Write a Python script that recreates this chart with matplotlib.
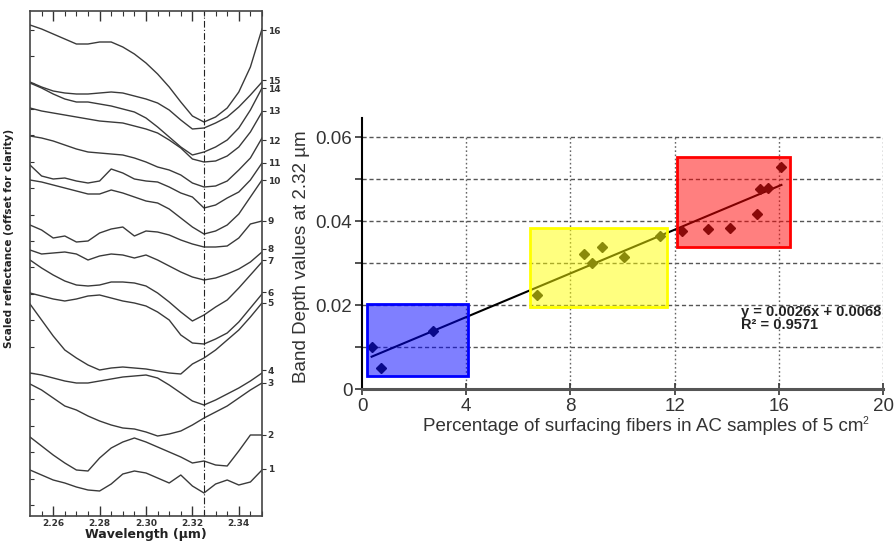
import numpy as np
import matplotlib
matplotlib.use("Agg")
import matplotlib.pyplot as plt
from matplotlib.patches import Rectangle

# ---------------- Left panel data (scaled reflectance, offset, arbitrary units) ----------------
wavelength = [2.250, 2.255, 2.260, 2.265, 2.270, 2.275, 2.280, 2.285, 2.290, 2.295, 2.300,
              2.305, 2.310, 2.315, 2.320, 2.325, 2.330, 2.335, 2.340, 2.345, 2.350]

spec16 = [491, 487, 482, 477, 472, 472, 474, 474, 469, 462, 453, 442, 429, 414, 400, 394, 399, 408, 424, 449, 487]
spec15 = [434, 429, 425, 423, 422, 422, 423, 424, 423, 420, 417, 413, 406, 396, 387, 388, 393, 399, 409, 421, 434]
spec14 = [433, 428, 422, 417, 414, 414, 412, 410, 407, 404, 398, 389, 379, 369, 361, 364, 369, 376, 388, 406, 428]
spec13 = [408, 405, 403, 401, 399, 397, 395, 394, 393, 390, 387, 383, 376, 368, 357, 354, 355, 360, 369, 384, 404]
spec12 = [380, 378, 375, 371, 367, 364, 363, 362, 361, 358, 354, 349, 346, 341, 333, 329, 330, 335, 346, 358, 378]
spec11 = [351, 340, 337, 338, 335, 333, 335, 347, 343, 337, 335, 334, 329, 323, 319, 308, 311, 318, 324, 336, 353]
spec10 = [336, 334, 331, 328, 325, 322, 322, 326, 323, 319, 315, 313, 307, 298, 289, 282, 285, 291, 302, 319, 336]
spec9 = [291, 286, 278, 280, 274, 275, 283, 287, 289, 280, 285, 284, 281, 276, 272, 269, 269, 270, 278, 292, 295]
spec8 = [266, 262, 263, 264, 262, 256, 260, 262, 261, 258, 261, 256, 250, 244, 239, 236, 238, 242, 247, 254, 264]
spec7 = [256, 248, 241, 235, 231, 230, 231, 234, 234, 233, 230, 223, 214, 204, 195, 201, 209, 216, 228, 241, 254]
spec6 = [223, 220, 217, 215, 217, 220, 221, 218, 215, 213, 210, 204, 196, 181, 173, 172, 177, 183, 194, 208, 222]
spec5 = [212, 196, 180, 166, 158, 151, 146, 148, 149, 148, 147, 145, 143, 142, 152, 158, 166, 176, 186, 199, 213]
spec4 = [143, 141, 138, 135, 133, 133, 135, 137, 139, 140, 141, 138, 131, 123, 115, 111, 116, 122, 128, 135, 143]
spec3 = [132, 126, 118, 110, 106, 100, 95, 91, 88, 87, 84, 80, 82, 85, 91, 98, 104, 110, 118, 126, 133]
spec2 = [79, 70, 61, 53, 46, 45, 58, 68, 74, 78, 74, 69, 64, 59, 53, 55, 51, 50, 65, 81, 81]
spec1 = [46, 41, 36, 33, 29, 26, 25, 32, 42, 45, 43, 38, 33, 41, 30, 23, 32, 36, 31, 34, 46]

spectrum_labels = ["1", "2", "3", "4", "5", "6", "7", "8", "9", "10", "11", "12", "13", "14", "15", "16"]
label_levels = [47, 81, 133, 146, 213, 224, 256, 267, 295, 336, 353, 376, 405, 428, 436, 486]
band_center = 2.325
left_xticks = [2.26, 2.28, 2.30, 2.32, 2.34]
left_xticklabels = ["2.26", "2.28", "2.30", "2.32", "2.34"]

# ---------------- Right panel data ----------------
blue_pct = [0.37, 0.72, 2.72]
blue_depth = [0.0101, 0.0051, 0.0139]
yellow_pct = [6.72, 8.52, 8.84, 9.22, 10.05, 11.44]
yellow_depth = [0.0225, 0.0322, 0.0300, 0.0340, 0.0316, 0.0366]
red_pct = [12.30, 13.30, 14.14, 15.18, 15.29, 15.57, 16.10]
red_depth = [0.0377, 0.0381, 0.0385, 0.0417, 0.0476, 0.0479, 0.0530]

fit_slope = 0.0026
fit_intercept = 0.0068
fit_range = [0.37, 16.1]

# boxes: (x0, x1, y0, y1)
blue_box = [0.18, 4.05, 0.0032, 0.0202]
yellow_box = [6.46, 11.71, 0.0197, 0.0385]
red_box = [12.10, 16.44, 0.0338, 0.0554]

right_xticks = [0, 4, 8, 12, 16, 20]
right_yticks = [0, 0.02, 0.04, 0.06]
right_yticklabels = ["0", "0.02", "0.04", "0.06"]
grid_y = [0.01, 0.02, 0.03, 0.04, 0.05, 0.06]
grid_x = [4, 8, 12, 16, 20]

# ---------------- Figure ----------------
W, H = 894, 541
fig = plt.figure(figsize=(W / 100, H / 100), dpi=100)
fig.patch.set_facecolor("white")

def fx(px):
    return px / W

def fy(py):
    return 1 - py / H

# ===== Left panel =====
axL = fig.add_axes([fx(30), fy(516), fx(262) - fx(30), fy(11) - fy(516)])
spectra = [spec1, spec2, spec3, spec4, spec5, spec6, spec7, spec8,
           spec9, spec10, spec11, spec12, spec13, spec14, spec15, spec16]
for s in spectra:
    axL.plot(wavelength, s, color="#3a3a3a", lw=1.0)
axL.axvline(band_center, color="#222222", lw=0.8, ls=(0, (6, 2, 1, 2)))
axL.set_xlim(2.25, 2.35)
axL.set_ylim(0, 505)
axL.set_xticks(left_xticks)
axL.set_xticklabels(left_xticklabels)
axL.set_xticks(np.arange(2.255, 2.35, 0.005), minor=True)
axL.set_yticks(np.arange(11, 505, 26.4))
axL.set_yticklabels([])
axL.tick_params(axis="x", which="major", direction="in", length=7, width=1, top=True,
                labelsize=6.5, pad=2, colors="#333333")
axL.tick_params(axis="x", which="minor", direction="in", length=3.5, width=0.8, top=True, colors="#333333")
axL.tick_params(axis="y", which="major", direction="in", length=3, width=0.8, left=True, right=False,
                colors="#333333")
for lab in axL.get_xticklabels():
    lab.set_fontweight("bold")
for sp in axL.spines.values():
    sp.set_color("#444444")
    sp.set_linewidth(1.2)
axL.set_xlabel("Wavelength (µm)", fontsize=9, fontweight="bold", labelpad=0, color="#222222")
axL.set_ylabel("Scaled reflectance (offset for clarity)", fontsize=7.5, fontweight="bold",
               color="#222222")
axL.yaxis.set_label_coords(-0.07, 0.55)

axR2 = axL.twinx()
axR2.set_ylim(0, 505)
axR2.set_yticks(label_levels)
axR2.set_yticklabels(spectrum_labels)
axR2.tick_params(axis="y", direction="out", length=3, width=0.8, labelsize=6.5, pad=1, colors="#333333")
for lab in axR2.get_yticklabels():
    lab.set_fontweight("bold")
for sp in axR2.spines.values():
    sp.set_visible(False)

# ===== Right panel =====
rfont = "Liberation Sans"
ax = fig.add_axes([fx(362), fy(389.3), fx(883) - fx(362), fy(118) - fy(389.3)])
ax.set_xlim(0, 20)
ax.set_ylim(0, 0.0646)

for gy in grid_y:
    ax.hlines(gy, 0, 20, colors="#555555", lw=1.0, linestyles=(0, (3, 2)), zorder=1)
for gx in grid_x:
    ax.vlines(gx, 0, 0.06, colors="#666666", lw=1.0, linestyles=(0, (1.2, 1.8)), zorder=1)

xfit = np.array(fit_range)
ax.plot(xfit, fit_slope * xfit + fit_intercept, color="black", lw=1.5, zorder=2)

for xs, ys in [(blue_pct, blue_depth), (yellow_pct, yellow_depth), (red_pct, red_depth)]:
    ax.plot(xs, ys, ls="none", marker="D", ms=5.5, color="#151515", zorder=3)

for box, col in [(blue_box, (0, 0, 1)), (yellow_box, (1, 1, 0)), (red_box, (1, 0, 0))]:
    x0, x1, y0, y1 = box
    ax.add_patch(Rectangle((x0, y0), x1 - x0, y1 - y0, facecolor=col + (0.5,),
                           edgecolor=col, lw=2, zorder=4))

ax.text(14.55, 0.0184, "y = 0.0026x + 0.0068", fontsize=10.5, fontweight="bold", family=rfont,
        ha="left", va="center", color="#222222", zorder=5)
ax.text(14.55, 0.0153, "R² = 0.9571", fontsize=10.5, fontweight="bold", family=rfont,
        ha="left", va="center", color="#222222", zorder=5)

for side in ["top", "right"]:
    ax.spines[side].set_visible(False)
ax.spines["left"].set_color("black")
ax.spines["left"].set_linewidth(1.5)
ax.spines["bottom"].set_color("#555555")
ax.spines["bottom"].set_linewidth(2.2)
ax.spines["left"].set_zorder(6)
ax.spines["bottom"].set_zorder(6)

ax.set_xticks(right_xticks)
ax.set_xticklabels([str(v) for v in right_xticks])
ax.set_yticks(right_yticks)
ax.set_yticklabels(right_yticklabels)
ax.set_yticks([0.01, 0.03, 0.05], minor=True)
ax.tick_params(axis="x", direction="inout", length=9, width=1.2, labelsize=13.5, pad=2, colors="#333333")
ax.tick_params(axis="y", which="both", direction="out", length=5, width=1.2, labelsize=13.5, pad=2,
               colors="#333333")
for lab in ax.get_xticklabels() + ax.get_yticklabels():
    lab.set_family(rfont)

ax.set_xlabel("Percentage of surfacing fibers in AC samples of 5 cm", fontsize=13.5, family=rfont,
              color="#333333")
ax.xaxis.set_label_coords(0.539, -0.105)
ax.text(0.967, -0.117, "2", transform=ax.transAxes, fontsize=7.5, family=rfont, color="#333333",
        ha="center", va="center")
ax.set_ylabel("Band Depth values at 2.32 µm", fontsize=13.5, family=rfont, color="#333333")
ax.yaxis.set_label_coords(-0.10, 0.49)

fig.savefig("out.png", dpi=100, facecolor="white")
